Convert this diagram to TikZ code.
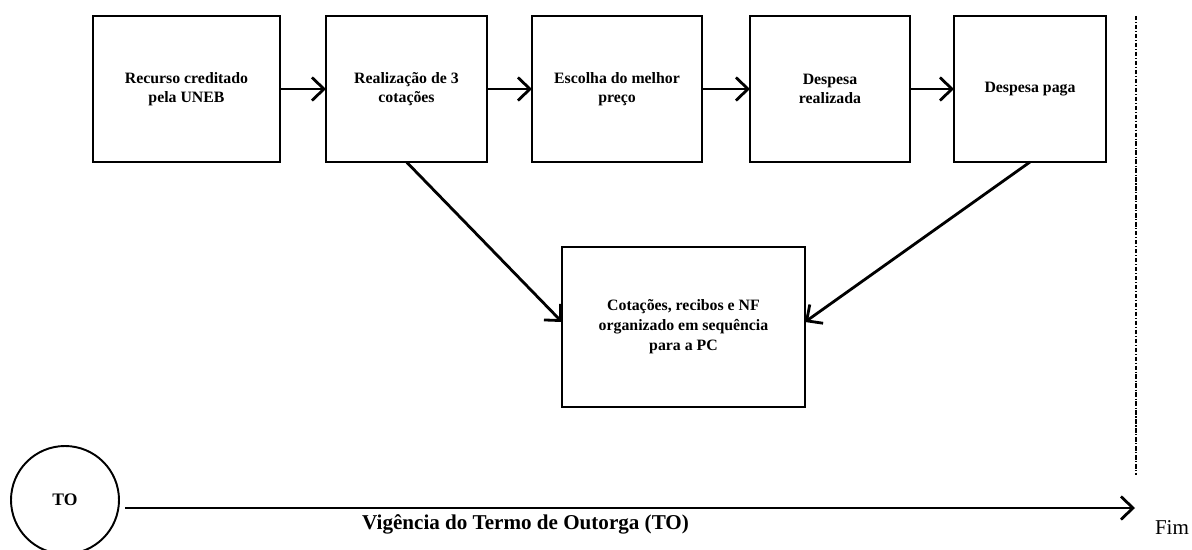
\documentclass[tikz,border=0pt]{standalone}
\usepackage{fontspec}
\setmainfont{Liberation Serif}
\usetikzlibrary{arrows.meta}
\tikzset{
  etapa/.style = {draw, line width=1.1pt, inner sep=0pt, outer sep=0pt,
                  minimum height=2.92cm, minimum width=#1, align=center,
                  font=\bfseries\fontsize{9}{10.5}\selectfont},
  etapa/.default = 3.2cm,
  seta/.style = {line width=1.6pt, -{Straight Barb[length=2.4mm,width=4.6mm]}}
}

\begin{document}
\begin{tikzpicture}
	\def \yb{-1.78}
	\useasboundingbox (0,0) rectangle (23.84,-11);
	
	% Etapas
	\node[etapa=3.74cm] (recurso) at (3.73,\yb) {Recurso creditado\\pela UNEB};
	\node[etapa=3.22cm] (cotacao) at (8.13,\yb) {Realização de 3\\cotações};
	\node[etapa=3.4cm]  (escolha) at (12.34,\yb) {Escolha do melhor\\preço};
	\node[etapa=3.2cm]  (realiz)  at (16.6,\yb) {Despesa\\realizada};
	\node[etapa=3.04cm] (paga)    at (20.6,\yb) {Despesa paga};
	
	% Prestacao de contas
	\node[etapa=4.86cm, minimum height=3.2cm, font=\bfseries\fontsize{9}{11.4}\selectfont] (pc) at (13.67,-6.54) {Cotações, recibos e NF\\organizado em sequência\\para a PC};
	
	% Setas
	\draw[seta] (recurso) -- (cotacao);
	\draw[seta] (cotacao) -- (escolha);
	\draw[seta] (escolha) -- (realiz);
	\draw[seta] (realiz) -- (paga);
	\draw[seta] (cotacao.south) -- ([yshift=0.1cm]pc.west);
	\draw[seta] (paga.south) -- ([yshift=0.1cm]pc.east);
	
	% Fim da vigencia
	\coordinate (dtop) at (22.72,-0.32);
	\coordinate (dbot) at (22.72,-9.5);
	\draw[line width=0.9pt, dash pattern=on 2.5pt off 1pt on 0.6pt off 1pt] (dtop) -- (dbot);
	
	% Linha do tempo
	\node[draw, circle, line width=1.1pt, minimum size=2.16cm, inner sep=0pt,
	      font=\bfseries\fontsize{10}{12}\selectfont] (to) at (1.3,-10.0) {TO};
	\coordinate (tini) at (2.5,-10.16);
	\coordinate (tfim) at (22.7,-10.16);
	\draw[seta] (tini) -- (tfim);
	\node[anchor=west, font=\bfseries\fontsize{12}{14}\selectfont] (vigencia) at (7.12,-10.48) {Vigência do Termo de Outorga (TO)};
	\node[font=\fontsize{12}{14}\selectfont] (fim) at (23.44,-10.56) {Fim};
	
\end{tikzpicture}
\end{document}
